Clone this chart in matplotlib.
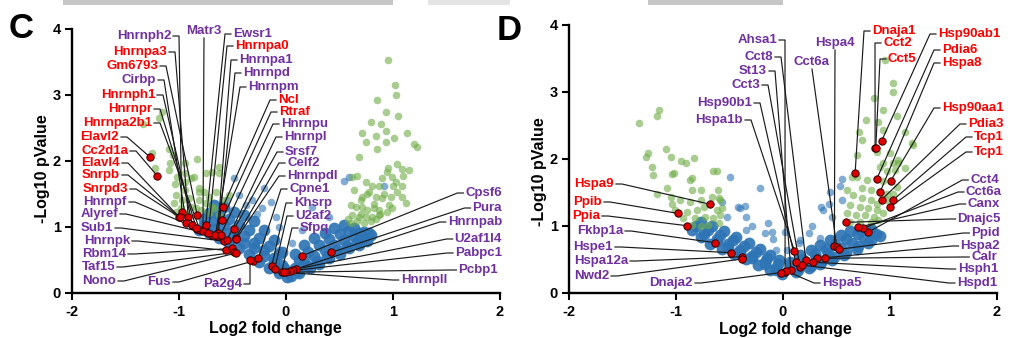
import matplotlib
matplotlib.use('Agg')
import matplotlib.pyplot as plt
from matplotlib.lines import Line2D
from matplotlib.patches import Rectangle

plt.rcParams['font.family'] = ['Liberation Sans', 'DejaVu Sans']
plt.rcParams['font.weight'] = 'bold'
plt.rcParams['axes.unicode_minus'] = False

# ---------------- DATA: panel C ----------------
c_core_x = [-0.67, -0.58, -0.49, -0.39, -0.30, -0.21, -0.11, -0.04,
            -0.77, -0.67, -0.58, -0.49, -0.39, -0.30, -0.21, -0.11, -0.04,
            -0.81, -0.72, -0.63, -0.53, -0.44, -0.35, -0.25, -0.16, -0.07, 0.01,
            -0.72, -0.63, -0.53, -0.44, -0.35, -0.25, -0.16, -0.07,
            -0.77, -0.67, -0.58, -0.49, -0.39, -0.30, -0.21, -0.11, -0.02,
            0.08, 0.17, 0.26, 0.36, 0.45, 0.54, 0.64, 0.73,
            0.08, 0.17, 0.26, 0.36, 0.45, 0.54, 0.64, 0.73, 0.79,
            0.05, 0.12, 0.22, 0.31, 0.40, 0.50, 0.59, 0.68,
            0.12, 0.21, 0.31, 0.40, 0.50, 0.59, 0.68, 0.78,
            0.10, 0.20, 0.29, 0.38, 0.48, 0.57, 0.66, 0.76]
c_core_y = [1.33, 1.30, 1.23, 1.17, 1.08, 0.95, 0.80, 0.62,
            1.11, 1.08, 1.03, 0.95, 0.86, 0.76, 0.65, 0.53, 0.42,
            0.95, 0.91, 0.83, 0.76, 0.68, 0.58, 0.47, 0.38, 0.30, 0.24,
            1.21, 1.17, 1.11, 1.03, 0.95, 0.83, 0.71, 0.58,
            1.02, 0.97, 0.91, 0.83, 0.76, 0.67, 0.56, 0.47, 0.38,
            0.58, 0.73, 0.83, 0.91, 0.98, 1.03, 0.98, 0.92,
            0.38, 0.47, 0.56, 0.65, 0.73, 0.80, 0.86, 0.83, 0.88,
            0.26, 0.30, 0.38, 0.44, 0.52, 0.59, 0.67, 0.73,
            0.50, 0.62, 0.73, 0.82, 0.89, 0.94, 0.91, 0.91,
            0.33, 0.41, 0.48, 0.56, 0.64, 0.71, 0.77, 0.79]
c_blue_x = [-0.49, -0.21, -0.14, -0.37, -0.32, -0.07, -0.09, -0.22, 0.24, 0.40,
            0.15, 0.06, 0.59, 0.54, 0.92, -0.07, -0.44, -0.55, -0.27]
c_blue_y = [1.74, 1.59, 1.38, 1.33, 1.41, 1.00, 1.15, 1.29, 1.30, 1.15,
            0.95, 0.76, 1.76, 1.70, 1.61, 0.65, 1.48, 1.41, 1.20]
c_green_x = [-1.34, -1.19, -1.16, -1.25, -1.09, -1.06, -0.83, -1.22, -0.94, -1.08,
             -1.09, -1.02, -0.94, -0.86, -0.69, -0.63, -0.75, -1.04, -0.89, -0.77,
             -0.94, -0.81, -0.65, -1.03, -0.97, -0.91, -0.81, -0.75, -1.05, -0.98,
             -0.89, -0.69, -0.94, -0.79, -0.72, -1.03, -0.84, -0.67, -0.72, -0.81,
             -0.94, -0.58, -0.53, -0.63, -0.63,
             0.95, 1.02, 1.03, 0.85, 0.93, 0.79, 0.71, 0.93, 0.84, 0.75,
             1.01, 1.13, 1.20, 1.22, 0.85, 0.68, 0.95, 1.04, 1.08, 0.94,
             0.90, 0.99, 1.03, 1.08, 1.09, 0.66, 0.75, 0.80, 0.87, 0.71,
             0.78, 0.84, 0.90, 0.98, 1.04, 1.08, 1.12, 0.61, 0.65, 0.71,
             0.76, 0.82, 0.87, 0.94, 0.99, 0.62, 0.68, 0.75, 0.80, 0.87,
             0.61, 0.66, 0.73, 0.79, 0.89, 1.05, 0.93, 1.15, 0.62, 0.84,
             0.64, 0.70, 0.82, 0.96, 0.88, 0.70, 0.58, 0.92, 0.76, 1.00]
c_green_y = [2.56, 2.64, 2.74, 2.11, 2.17, 2.08, 2.03, 1.89, 1.97, 1.97,
             1.86, 1.76, 1.82, 1.76, 1.83, 1.82, 1.82, 1.64, 1.74, 1.53,
             1.67, 1.59, 1.53, 1.48, 1.41, 1.44, 1.41, 1.36, 1.36, 1.29,
             1.30, 1.30, 1.21, 1.26, 1.21, 1.23, 1.29, 1.29, 1.45, 1.52,
             1.56, 1.41, 1.48, 1.18, 1.91,
             3.52, 3.15, 3.00, 2.92, 2.74, 2.59, 2.42, 2.45, 2.38, 2.29,
             2.35, 2.42, 2.26, 2.21, 2.17, 2.06, 1.89, 1.95, 1.88, 1.83,
             1.74, 1.76, 1.68, 1.61, 1.77, 1.77, 1.67, 1.61, 1.61, 1.45,
             1.52, 1.45, 1.44, 1.45, 1.53, 1.45, 1.36, 1.33, 1.30, 1.30,
             1.26, 1.29, 1.26, 1.23, 1.29, 1.18, 1.15, 1.14, 1.15, 1.18,
             1.06, 1.08, 1.06, 1.08, 2.56, 2.67, 2.29, 1.86, 1.76, 1.11,
             1.56, 1.41, 1.35, 1.33, 1.20, 1.20, 1.12, 1.50, 1.50, 1.62]
c_genes = ['Hnrnph2', 'Hnrnpa3', 'Gm6793', 'Cirbp', 'Hnrnph1', 'Hnrnpr', 'Hnrnpa2b1',
           'Elavl2', 'Cc2d1a', 'Elavl4', 'Snrpb', 'Snrpd3', 'Hnrnpf', 'Alyref', 'Sub1',
           'Hnrnpk', 'Rbm14', 'Taf15', 'Nono', 'Fus', 'Pa2g4',
           'Matr3', 'Ewsr1', 'Hnrnpa0', 'Hnrnpa1', 'Hnrnpd', 'Hnrnpm', 'Ncl', 'Rtraf',
           'Hnrnpu', 'Hnrnpl', 'Srsf7', 'Celf2', 'Hnrnpdl', 'Cpne1', 'Khsrp', 'U2af2', 'Sfpq',
           'Cpsf6', 'Pura', 'Hnrnpab', 'U2af1l4', 'Pabpc1', 'Pcbp1', 'Hnrnpll']
c_gene_x = [-0.975, -0.913, -0.829, -0.932, -0.874, -0.836, -0.804,
            -1.274, -1.203, -1.00, -0.99, -0.88, -0.84, -0.689, -0.579,
            -0.563, -0.505, -0.486, -0.47, -0.308, -0.336,
            -0.776, -0.751, -0.726, -0.642, -0.633, -0.66, -0.589, -0.598,
            -0.61, -0.55, -0.486, -0.47, -0.464, -0.259, -0.134, -0.106, -0.040,
            0.152, 0.423, 0.096, 0.070, 0.037, 0.0, -0.02]
c_gene_y = [1.23, 1.14, 1.17, 1.06, 1.03, 0.97, 0.95,
            2.06, 1.77, 1.15, 1.14, 1.02, 0.98, 0.88, 0.78,
            0.64, 0.67, 0.61, 0.60, 0.48, 0.49,
            0.94, 1.02, 0.90, 0.86, 0.90, 0.87, 1.30, 1.10,
            0.88, 0.80, 0.96, 0.83, 0.82, 0.52, 0.40, 0.36, 0.32,
            0.56, 0.61, 0.36, 0.35, 0.33, 0.31, 0.31]
c_gene_up = [False, True, True, False, True, True, True,
             True, True, True, True, True, False, False, False,
             False, False, False, False, False, False,
             False, False, True, False, False, False, True, True,
             False, False, False, False, False, False, False, False, False,
             False, False, False, False, False, False, False]

# ---------------- DATA: panel D ----------------
d_core_x = [-0.77, -0.66, -0.55, -0.44, -0.32, -0.21, -0.12, -0.04,
            -0.85, -0.74, -0.62, -0.51, -0.40, -0.29, -0.17, -0.06,
            -0.68, -0.57, -0.46, -0.34, -0.23, -0.12, -0.01,
            -0.81, -0.70, -0.59, -0.47, -0.36, -0.25, -0.15, -0.05,
            -0.77, -0.62, -0.51, -0.40, -0.29, -0.17, -0.06,
            0.07, 0.16, 0.26, 0.35, 0.44, 0.54, 0.63, 0.72, 0.82,
            0.09, 0.20, 0.31, 0.42, 0.54, 0.65, 0.76, 0.87,
            0.12, 0.24, 0.35, 0.46, 0.57, 0.69, 0.80,
            0.08, 0.18, 0.30, 0.40, 0.49, 0.59, 0.70, 0.82,
            0.14, 0.26, 0.37, 0.48, 0.59, 0.70, 0.82, 0.91]
d_core_y = [1.06, 1.00, 0.92, 0.83, 0.74, 0.65, 0.56, 0.49,
            0.94, 0.88, 0.80, 0.73, 0.64, 0.55, 0.46, 0.37,
            0.73, 0.65, 0.58, 0.50, 0.41, 0.34, 0.28,
            1.00, 0.94, 0.86, 0.79, 0.70, 0.61, 0.52, 0.43,
            0.83, 0.77, 0.68, 0.61, 0.52, 0.43, 0.34,
            0.46, 0.56, 0.64, 0.71, 0.79, 0.86, 0.92, 0.94, 0.95,
            0.37, 0.44, 0.52, 0.59, 0.67, 0.74, 0.82, 0.88,
            0.31, 0.37, 0.43, 0.49, 0.56, 0.65, 0.74,
            0.41, 0.50, 0.58, 0.65, 0.73, 0.80, 0.88, 0.91,
            0.34, 0.40, 0.47, 0.53, 0.61, 0.70, 0.79, 0.85]
d_blue_x = [-0.49, -0.21, -0.57, -0.35, -0.42, -0.52, -0.17, -0.09, -0.14, -0.29,
            -0.06, -0.40, -0.34, 0.55, 0.53, 0.44, 0.43, 0.55, 0.36, 0.27,
            0.16, 0.35, 0.24, 0.04, 0.46, -0.34, -0.10, 0.02, 0.15, 0.38]
d_blue_y = [1.72, 1.56, 1.36, 1.29, 1.28, 1.13, 0.89, 0.80, 1.04, 0.99,
            0.64, 1.26, 1.13, 1.70, 1.59, 1.51, 1.33, 1.38, 1.28, 0.99,
            0.79, 0.81, 0.89, 0.64, 1.13, 0.94, 0.91, 0.91, 0.74, 1.23]
d_green_x = [-1.16, -1.18, -1.35, -1.26, -1.28, -1.09, -1.05, -0.95, -0.91, -0.83,
             -1.22, -1.21, -1.02, -0.87, -0.65, -0.62, -1.08, -0.85, -0.77, -0.61,
             -0.66, -1.05, -0.96, -1.04, -0.87, -0.77, -0.59, -1.01, -0.90, -0.80,
             -0.74, -0.62, -0.57, -0.93, -0.82, -0.73, -0.65, -0.59, -0.85, -0.77,
             -0.70, -0.60, -1.04, -0.85, -1.18, -0.60,
             0.96, 1.03, 1.03, 0.85, 0.94, 0.78, 0.89, 1.07, 0.94, 1.14,
             0.71, 0.74, 1.21, 1.22, 0.69, 0.94, 1.03, 1.08, 1.14,
             0.88, 1.00, 1.08, 0.91, 0.97, 1.05, 0.79, 0.69, 0.94, 1.07,
             0.74, 0.82, 0.97, 1.03, 0.60, 0.66, 0.74, 0.82, 0.88, 0.97,
             0.63, 0.72, 0.80, 0.88, 0.94, 0.60, 0.68, 0.77, 0.85, 0.63,
             0.72, 0.82, 0.89, 0.65]
d_green_y = [2.72, 2.63, 2.54, 2.09, 2.02, 2.14, 2.03, 1.96, 1.93, 2.01,
             1.88, 1.76, 1.79, 1.68, 1.82, 1.81, 1.56, 1.54, 1.54, 1.54,
             1.43, 1.43, 1.38, 1.33, 1.36, 1.38, 1.38, 1.23, 1.21, 1.23,
             1.28, 1.23, 1.26, 1.11, 1.11, 1.13, 1.11, 1.16, 1.01, 0.99,
             1.01, 1.04, 1.77, 1.71, 1.48, 1.41,
             3.48, 3.13, 2.99, 2.90, 2.73, 2.58, 2.55, 2.64, 2.43, 2.40,
             2.40, 2.28, 2.24, 2.20, 2.06, 1.93, 1.94, 1.93, 1.86,
             2.10, 2.08, 1.98, 1.88, 1.81, 1.83, 1.68, 1.73, 1.66, 1.58,
             1.56, 1.53, 1.48, 1.48, 1.53, 1.46, 1.41, 1.38, 1.33, 1.38,
             1.31, 1.28, 1.26, 1.23, 1.19, 1.19, 1.16, 1.16, 1.13, 1.06,
             1.06, 1.06, 1.09, 1.73]
d_genes = ['Ahsa1', 'Cct8', 'St13', 'Cct3', 'Hsp90b1', 'Hspa1b', 'Hspa4', 'Cct6a',
           'Dnaja1', 'Cct2', 'Cct5', 'Hsp90ab1', 'Pdia6', 'Hspa8', 'Hsp90aa1', 'Pdia3',
           'Tcp1', 'Tcp1', 'Cct4', 'Cct6a', 'Canx', 'Dnajc5', 'Ppid', 'Hspa2', 'Calr',
           'Hsph1', 'Hspd1', 'Hspa5', 'Hspa9', 'Ppib', 'Ppia', 'Fkbp1a', 'Hspe1',
           'Hspa12a', 'Nwd2', 'Dnaja2']
d_gene_x = [0.021, 0.215, 0.075, 0.162, 0.121, 0.108, 0.482, 0.505,
            0.676, 0.863, 0.869, 0.925, 0.879, 0.909, 1.009, 0.925,
            1.028, 1.003, 0.794, 0.753, 0.701, 0.592, 0.529, 0.395, 0.318,
            0.286, 0.178, 0.031, -0.679, -0.985, -0.897, -0.633, -0.483,
            -0.378, -0.383, -0.019]
d_gene_y = [0.313, 0.488, 0.339, 0.379, 0.454, 0.627, 0.697, 0.678,
            1.787, 2.155, 2.16, 2.27, 1.70, 1.50, 1.67, 1.39,
            1.38, 1.28, 0.90, 0.961, 0.976, 1.05, 0.648, 0.522, 0.513,
            0.454, 0.413, 0.324, 1.32, 1.185, 1.00, 0.746, 0.597,
            0.537, 0.503, 0.30]
d_gene_up = [False, False, False, False, False, False, False, False,
             True, True, True, True, True, True, True, True,
             True, True, False, False, False, False, False, False, False,
             False, False, False, True, True, True, False, False,
             False, False, False]

# ---------------- LAYOUT (label anchors in figure pixels, top-left origin) ----------------
# side: 'R' line leaves text's right edge, 'L' left edge (text left-aligned),
#       'Lr' left edge (text right-aligned), 'B' below a centred text
c_label_pos = [('R', 171, 36), ('R', 167, 52), ('R', 158, 66), ('R', 156, 80),
               ('R', 155, 95), ('R', 152, 109), ('R', 152, 123), ('R', 119, 137),
               ('R', 128, 151), ('R', 120, 163), ('R', 120, 175), ('R', 128, 189),
               ('R', 127, 202), ('R', 118, 214), ('R', 113, 228), ('R', 130, 241),
               ('R', 126, 254), ('R', 115, 267), ('R', 116, 281), ('R', 171, 282),
               ('R', 242, 284),
               ('B', 204, 31), ('L', 233, 34), ('L', 235, 46), ('L', 239, 60),
               ('L', 243, 73), ('L', 248, 87), ('L', 278, 100), ('L', 279, 112),
               ('L', 281, 124), ('L', 284, 137), ('L', 285, 152), ('L', 287, 163),
               ('L', 287, 176), ('L', 289, 189), ('L', 294, 203), ('L', 295, 216),
               ('L', 300, 228),
               ('Lr', 502, 193), ('Lr', 502, 208), ('Lr', 502, 222), ('Lr', 502, 239),
               ('Lr', 502, 253), ('Lr', 498, 270), ('Lr', 447, 280)]
d_label_pos = [('R', 777, 40), ('R', 773, 57), ('R', 767, 71), ('R', 760, 85),
               ('R', 752, 103), ('R', 743, 120), ('B', 835, 43), ('B', 812, 62),
               ('L', 872, 31), ('L', 883, 43), ('L', 888, 59), ('L', 938, 34),
               ('L', 942, 50), ('L', 942, 63), ('L', 942, 108), ('L', 968, 124),
               ('L', 974, 137), ('L', 974, 152),
               ('Lr', 999, 180), ('Lr', 1002, 192), ('Lr', 1000, 204), ('Lr', 1001, 219),
               ('Lr', 1000, 233), ('Lr', 1000, 246), ('Lr', 997, 257), ('Lr', 998, 269),
               ('Lr', 997, 283), ('L', 822, 283),
               ('R', 614, 184), ('R', 602, 202), ('R', 600, 216), ('R', 623, 231),
               ('R', 613, 247), ('R', 628, 261), ('R', 609, 276), ('R', 693, 283)]

W, H = 1011, 338
RED = '#FF0000'
PURPLE = '#7030A0'
BLUE = '#2E75B6'
GREEN = '#70AD47'
LABEL_FS = 9.5

fig = plt.figure(figsize=(W / 100, H / 100), dpi=100)
fig.patch.set_facecolor('white')


def fr(px, py):
    return px / W, 1 - py / H


# scan artefact strip at top
for x0, x1, c in [(63, 393, '#c6c6c6'), (428, 510, '#e4e4e4'), (648, 783, '#c6c6c6')]:
    fig.patches.append(Rectangle(fr(x0, 5), (x1 - x0) / W, 5 / H, transform=fig.transFigure,
                                 facecolor=c, edgecolor='none'))

axC = fig.add_axes([72 / W, 1 - 292.7 / H, 428 / W, 264 / H])
axD = fig.add_axes([569 / W, 1 - 292.7 / H, 427.7 / W, 268 / H])

for ax, ycen, xcen in ((axC, 0.47, 0.475), (axD, 0.45, 0.505)):
    ax.set_xlim(-2, 2)
    ax.set_ylim(0, 4)
    ax.spines[['top', 'right']].set_visible(False)
    for s in ('left', 'bottom'):
        ax.spines[s].set_linewidth(1.7)
    ax.set_xticks([-2, -1, 0, 1, 2])
    ax.set_yticks([0, 1, 2, 3, 4])
    ax.tick_params(direction='out', length=5, width=1.5, labelsize=10.5)
    ax.tick_params(axis='x', pad=4)
    ax.tick_params(axis='y', pad=3)
    ax.set_xlabel('Log2 fold change', fontsize=11.5, fontweight='bold', va='center')
    ax.xaxis.set_label_coords(xcen, -0.137)
    ax.set_ylabel('-Log10 pValue', fontsize=11.5, fontweight='bold', va='center')
    ax.yaxis.set_label_coords(-0.07, ycen)
    ax.patch.set_alpha(0)

fig.text(*fr(9, 28), 'C', fontsize=25, fontweight='bold', ha='left', va='center')
fig.text(*fr(497, 30), 'D', fontsize=25, fontweight='bold', ha='left', va='center')

renderer = fig.canvas.get_renderer()


def draw_panel(ax, core_x, core_y, bx, by, gx, gy, genes, gxs, gys, up, layout):
    ax.scatter(core_x, core_y, s=72, color=BLUE, alpha=0.92, linewidths=0, zorder=1)
    ax.scatter(bx, by, s=30, color=BLUE, alpha=0.6, linewidths=0, zorder=1)
    ax.scatter(gx, gy, s=30, color=GREEN, alpha=0.6, linewidths=0, zorder=2)
    ax.scatter(gxs, gys, s=28, color='#E00000', edgecolors='#300000', linewidths=0.7,
               zorder=5, clip_on=False)
    for name, x, y, u, (side, px, py) in zip(genes, gxs, gys, up, layout):
        col = RED if u else PURPLE
        ha = {'R': 'right', 'L': 'left', 'Lr': 'right', 'B': 'center'}[side]
        t = fig.text(*fr(px, py), name, ha=ha, va='center', color=col,
                     fontsize=LABEL_FS, fontweight='bold')
        bb = t.get_window_extent(renderer)
        dx, dy = ax.transData.transform((x, y))
        qx, qy = dx, H - dy
        if side == 'R':
            a = bb.x1 + 2
            pts = [(a, py), (a + 6, py), (qx, qy)]
        elif side in ('L', 'Lr'):
            a = bb.x0 - 2
            pts = [(a, py), (a - 6, py), (qx, qy)]
        else:
            pts = [(px, H - bb.y0 + 1), (qx, qy)]
        xs = [p[0] / W for p in pts]
        ys = [1 - p[1] / H for p in pts]
        ax.add_line(Line2D(xs, ys, transform=fig.transFigure, clip_on=False,
                           color='#1a1a1a', lw=0.85, zorder=4))


draw_panel(axC, c_core_x, c_core_y, c_blue_x, c_blue_y, c_green_x, c_green_y,
           c_genes, c_gene_x, c_gene_y, c_gene_up, c_label_pos)
draw_panel(axD, d_core_x, d_core_y, d_blue_x, d_blue_y, d_green_x, d_green_y,
           d_genes, d_gene_x, d_gene_y, d_gene_up, d_label_pos)

fig.savefig('out.png', dpi=100)
